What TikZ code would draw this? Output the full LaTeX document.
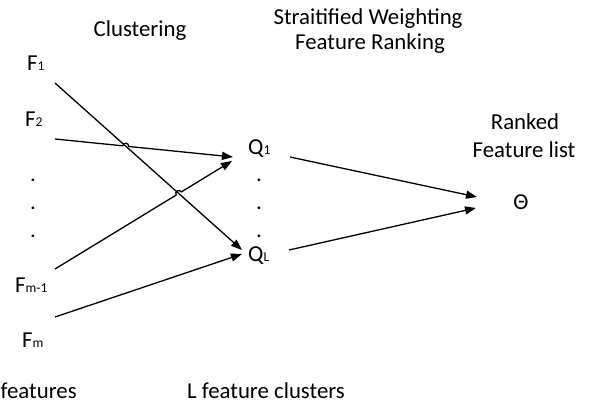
\documentclass[tikz,border=0pt]{standalone}
\usepackage{fontspec}
\setmainfont{Carlito}
\usetikzlibrary{arrows.meta,calc}
\newcommand\sbx[1]{{\fontsize{13.5}{14}\selectfont #1}}
\begin{document}
\begin{tikzpicture}[x=1pt,y=1pt,
  lbl/.style={inner sep=0pt, font=\fontsize{22.8}{27}\selectfont},
  conn/.style={line width=1.3pt, -{Triangle[length=11pt,width=8pt]}},
  ]
\clip (0,0) rectangle (593,409);
\fill[white] (0,0) rectangle (593,409);
% labels
\node[lbl, anchor=base west] (f1) at (27,338) {F\sbx{1}};
\node[lbl, anchor=base west] (f2) at (25,282) {F\sbx{2}};
\node[lbl, anchor=base west] (fm1) at (15,116) {F\sbx{m-1}};
\node[lbl, anchor=base west] (fm) at (22,61) {F\sbx{m}};
\node[lbl, anchor=base] (fd1) at (33,227.5) {.};
\node[lbl, anchor=base] (fd2) at (33,199.5) {.};
\node[lbl, anchor=base] (fd3) at (33,171.5) {.};
\node[lbl, anchor=base west] (q1) at (248,254) {Q\sbx{1}};
\node[lbl, anchor=base west] (ql) at (248,147) {Q\sbx{L}};
\node[lbl, anchor=base] (qd1) at (259,227.5) {.};
\node[lbl, anchor=base] (qd2) at (259,199.5) {.};
\node[lbl, anchor=base] (qd3) at (259,171.5) {.};
\node[lbl, anchor=base] (theta) at (521,199) {Θ};
\node[lbl, anchor=base] (clus) at (140,372) {Clustering};
\node[lbl, anchor=base] (sw1) at (368,384) {Straitified Weighting};
\node[lbl, anchor=base] (sw2) at (370,359) {Feature Ranking};
\node[lbl, anchor=base] (rk1) at (525,279) {Ranked};
\node[lbl, anchor=base] (rk2) at (524,251) {Feature list};
\node[lbl, anchor=base west] (mf) at (0.5,11) {features};
\node[lbl, anchor=base west] (lf) at (187,11) {L feature clusters};
% connector ends
\coordinate (F1s) at (55,326);  \coordinate (F1e) at (242,159);
\coordinate (F2s) at (55,270);  \coordinate (F2e) at (233,252);
\coordinate (Fm1s) at (55,140); \coordinate (Fm1e) at (232,248);
\coordinate (Fms) at (55,92);   \coordinate (Fme) at (242,155);
\coordinate (Q1s) at (290,252); \coordinate (Q1e) at (477,212);
\coordinate (QLs) at (289,159); \coordinate (QLe) at (476,201);
\coordinate (X1) at (intersection of F1s--F1e and F2s--F2e);
\coordinate (X2) at (intersection of F1s--F1e and Fm1s--Fm1e);
% connectors
\draw[conn] (F1s) -- (F1e);
\draw[conn] (F2s) -- ($(X1)!3pt!(F2s)$) arc[start angle=173.9, end angle=-6.1, radius=3pt] -- (F2e);
\draw[conn] (Fm1s) -- ($(X2)!3pt!(Fm1s)$) arc[start angle=211.4, end angle=31.4, radius=3pt] -- (Fm1e);
\draw[conn] (Fms) -- (Fme);
\draw[conn] (Q1s) -- (Q1e);
\draw[conn] (QLs) -- (QLe);
\end{tikzpicture}
\end{document}
